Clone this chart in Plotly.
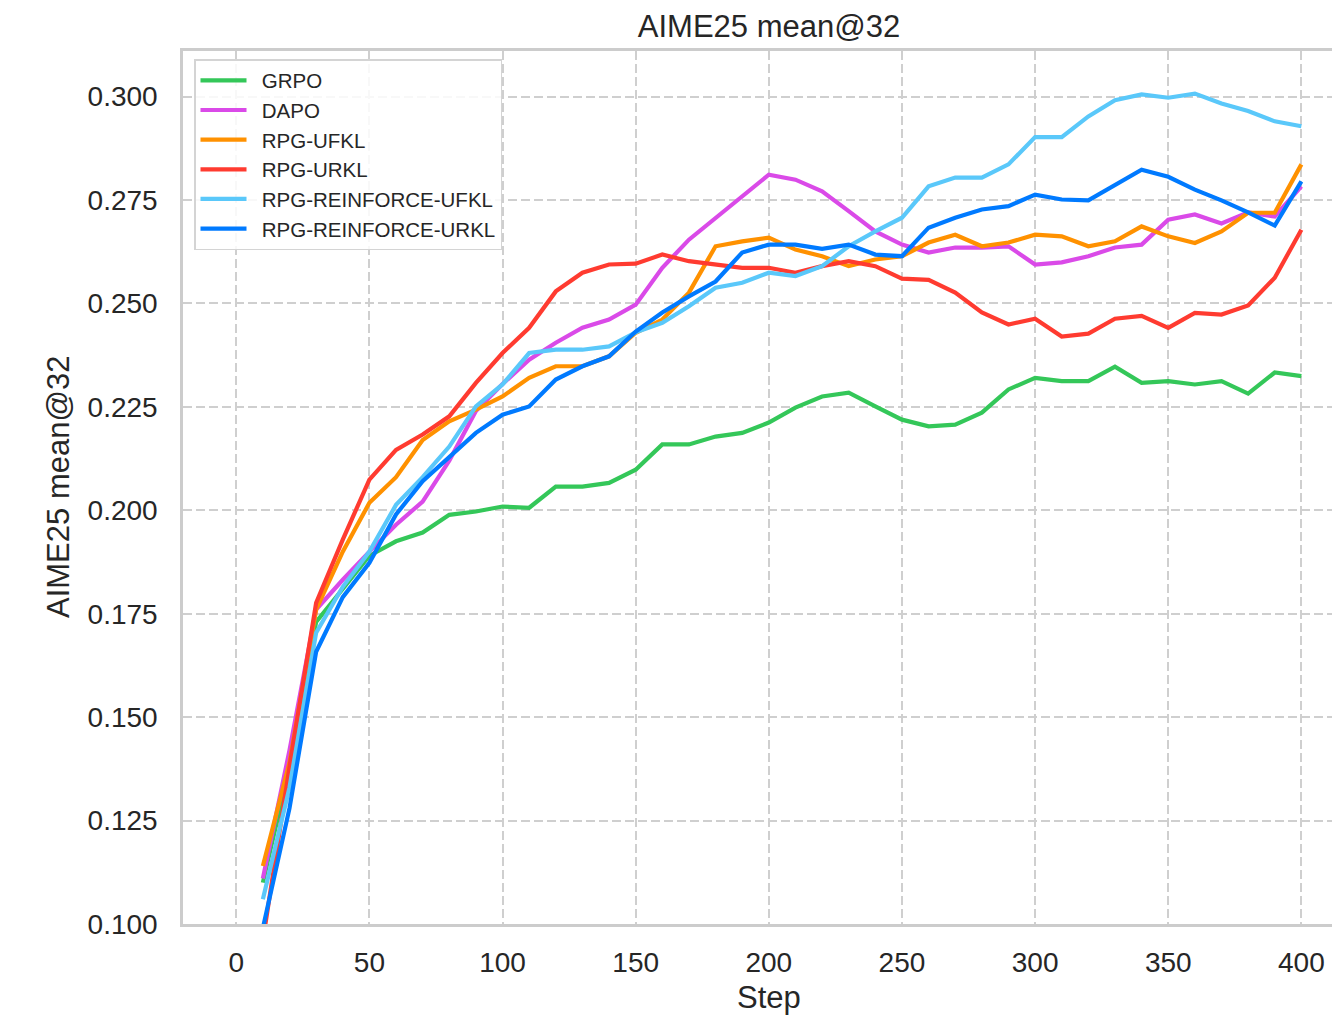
import plotly.graph_objects as go

steps = list(range(10, 401, 10))

grpo = [0.110, 0.138, 0.173, 0.181, 0.189, 0.1925, 0.1946, 0.1989, 0.1997, 0.2009,
        0.2006, 0.2057, 0.2057, 0.2066, 0.2098, 0.2159, 0.2159, 0.2178, 0.2187, 0.2212,
        0.2248, 0.2275, 0.2284, 0.2251, 0.2219, 0.2203, 0.2207, 0.2236, 0.2292, 0.2320,
        0.2312, 0.2312, 0.2347, 0.2308, 0.2312, 0.2304, 0.2312, 0.2282, 0.2333, 0.2324]

dapo = [0.111, 0.142, 0.176, 0.1832, 0.190, 0.1965, 0.2021, 0.2120, 0.2240, 0.2305,
        0.2364, 0.2405, 0.2441, 0.2461, 0.2497, 0.2586, 0.2654, 0.2707, 0.2759, 0.2811,
        0.2799, 0.2771, 0.2723, 0.2674, 0.2642, 0.2623, 0.2635, 0.2635, 0.2638, 0.2594,
        0.2599, 0.2614, 0.2635, 0.2642, 0.2702, 0.2715, 0.2693, 0.2720, 0.2710, 0.2783]

rpg_ufkl = [0.114, 0.139, 0.176, 0.190, 0.2018, 0.208, 0.2170, 0.2215, 0.2243, 0.2275,
            0.2320, 0.2348, 0.2348, 0.2372, 0.2429, 0.2461, 0.2526, 0.2638, 0.2650, 0.2659,
            0.2630, 0.2614, 0.2590, 0.2606, 0.2614, 0.2647, 0.2666, 0.2638, 0.2647, 0.2666,
            0.2662, 0.2638, 0.2650, 0.2686, 0.2662, 0.2646, 0.2674, 0.2719, 0.2719, 0.2836]

rpg_urkl = [0.096, 0.138, 0.1776, 0.1929, 0.2074, 0.2146, 0.2183, 0.2227, 0.2308, 0.2380,
            0.2441, 0.2529, 0.2574, 0.2594, 0.2596, 0.2618, 0.2602, 0.2594, 0.2586, 0.2586,
            0.2574, 0.2590, 0.2602, 0.2590, 0.2560, 0.2557, 0.2526, 0.2478, 0.2449, 0.2463,
            0.2420, 0.2427, 0.2463, 0.2470, 0.2441, 0.2477, 0.2473, 0.2495, 0.2562, 0.2678]

rpg_re_ufkl = [0.106, 0.133, 0.1704, 0.1815, 0.190, 0.2013, 0.2080, 0.2154, 0.2251, 0.2304,
               0.2380, 0.2388, 0.2388, 0.2396, 0.2430, 0.2453, 0.2493, 0.2538, 0.2550, 0.2574,
               0.2566, 0.2590, 0.2638, 0.2674, 0.2707, 0.2783, 0.2804, 0.2804, 0.2836, 0.2902,
               0.2902, 0.2952, 0.2991, 0.3005, 0.2997, 0.3007, 0.2983, 0.2965, 0.2940, 0.2928]

rpg_re_urkl = [0.099, 0.128, 0.1658, 0.179, 0.1873, 0.199, 0.2070, 0.2127, 0.2187, 0.2231,
               0.2251, 0.2316, 0.2348, 0.2372, 0.2432, 0.2478, 0.2517, 0.2553, 0.2623, 0.2642,
               0.2642, 0.2632, 0.2642, 0.2618, 0.2614, 0.2683, 0.2707, 0.2727, 0.2735, 0.2763,
               0.2751, 0.2749, 0.2787, 0.2823, 0.2806, 0.2775, 0.2749, 0.2720, 0.2688, 0.2795]

names = ["GRPO", "DAPO", "RPG-UFKL", "RPG-URKL", "RPG-REINFORCE-UFKL", "RPG-REINFORCE-URKL"]
series = [grpo, dapo, rpg_ufkl, rpg_urkl, rpg_re_ufkl, rpg_re_urkl]
colors = ["#34c759", "#da4ae8", "#ff9100", "#ff3b30", "#5ac8fa", "#007aff"]

x_ticks = [0, 50, 100, 150, 200, 250, 300, 350, 400]
y_ticks = [0.100, 0.125, 0.150, 0.175, 0.200, 0.225, 0.250, 0.275, 0.300]

FONT = "Liberation Sans, Arial, Helvetica, sans-serif"
TXT = "#262626"
GRID = "#cfcfcf"
SPINE = "#cccccc"

fig = go.Figure()
for n, s, c in zip(names, series, colors):
    fig.add_trace(go.Scatter(x=steps, y=s, mode="lines", name="\u2002" + n,
                             line=dict(color=c, width=4.2)))

W, H = 1332, 1020
L, R, T, B = 183, 0, 51, 96

fig.update_layout(
    width=W, height=H,
    margin=dict(l=L, r=R, t=T, b=B, pad=0),
    paper_bgcolor="white", plot_bgcolor="white",
    font=dict(family=FONT, color=TXT),
    title=dict(text="AIME25 mean@32", font=dict(size=31, color=TXT, family=FONT),
               xref="container", yref="container",
               x=769 / W, xanchor="center", y=1 - 26 / H, yanchor="middle"),
    showlegend=True,
    legend=dict(x=(194 - L) / (W - L - R), y=(H - B - 59) / (H - T - B),
                xanchor="left", yanchor="top",
                bgcolor="rgba(255,255,255,0.85)", bordercolor="#d4d4d4", borderwidth=1.5,
                font=dict(size=20.5, color=TXT, family=FONT),
                itemwidth=46, tracegroupgap=0),
    xaxis=dict(range=[-20, 411.5], tickmode="array", tickvals=x_ticks,
               ticktext=[str(v) for v in x_ticks],
               showgrid=True, gridcolor=GRID, gridwidth=2, griddash="9px,4px",
               zeroline=False, showline=True, linecolor=SPINE, linewidth=2.5, mirror=True,
               ticks="", ticklabelstandoff=12,
               tickfont=dict(size=28, color=TXT, family=FONT)),
    yaxis=dict(range=[0.100, 0.3110], tickmode="array", tickvals=y_ticks,
               ticktext=["%.3f" % v for v in y_ticks],
               showgrid=True, gridcolor=GRID, gridwidth=2, griddash="9px,4px",
               zeroline=False, showline=True, linecolor=SPINE, linewidth=2.5, mirror=False,
               ticks="", ticklabelstandoff=17,
               tickfont=dict(size=28, color=TXT, family=FONT)),
    annotations=[
        dict(text="Step", xref="paper", yref="paper",
             x=(769 - L) / (W - L - R), y=(H - B - 998) / (H - T - B),
             xanchor="center", yanchor="middle", showarrow=False,
             font=dict(size=31, color=TXT, family=FONT)),
        dict(text="AIME25 mean@32", xref="paper", yref="paper",
             x=(58 - L) / (W - L - R), y=(H - B - 487) / (H - T - B),
             xanchor="center", yanchor="middle", showarrow=False, textangle=-90,
             font=dict(size=31, color=TXT, family=FONT)),
    ],
)

fig.write_html("out.html")
